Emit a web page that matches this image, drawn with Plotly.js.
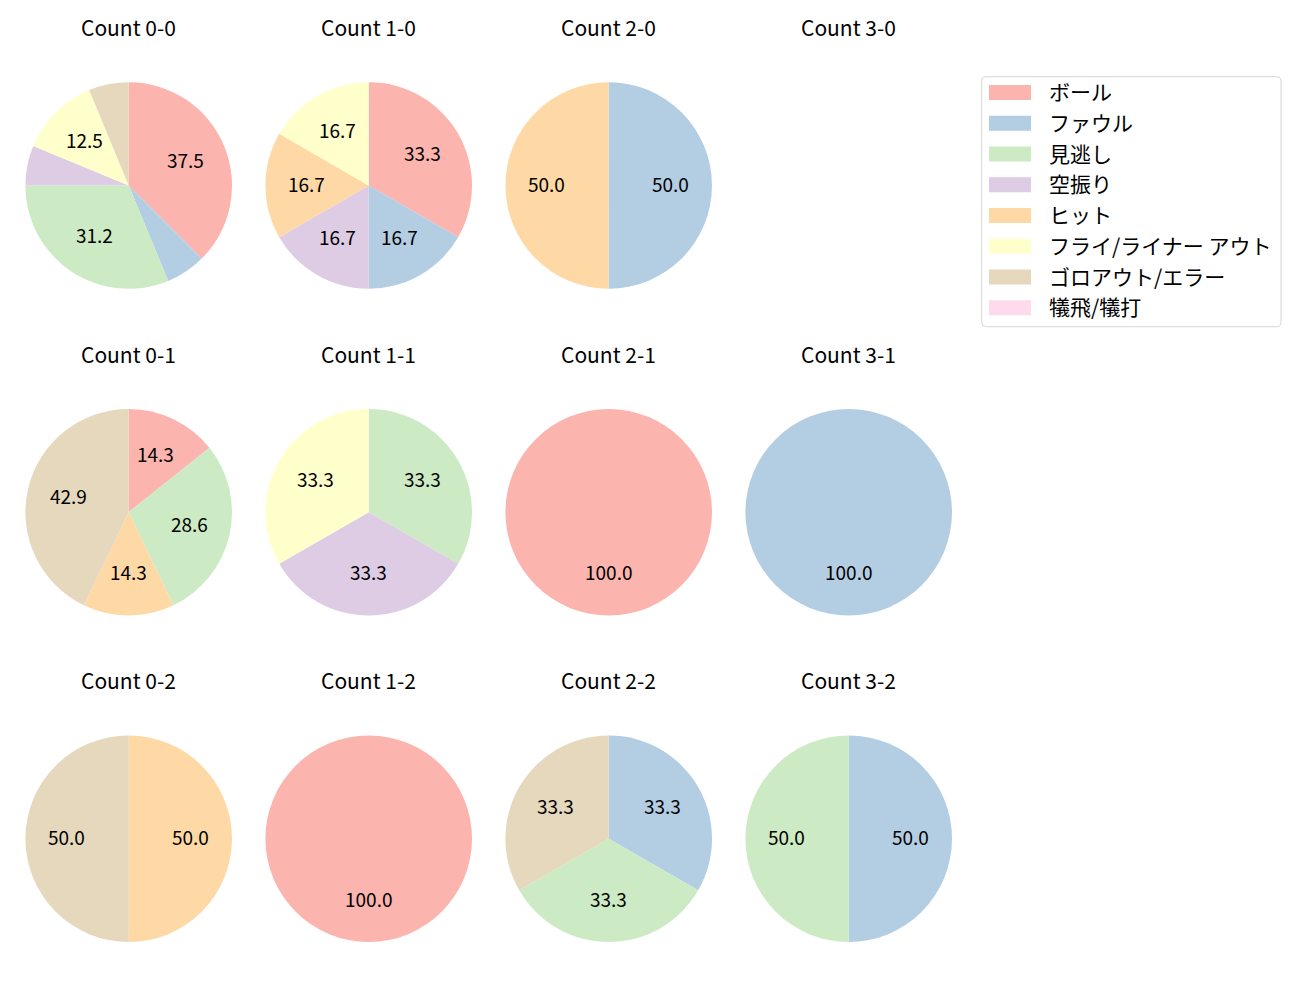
<!DOCTYPE html>
<html>
<head>
<meta charset="utf-8">
<script src="https://cdn.plot.ly/plotly-3.0.1.min.js"></script>
<style>html,body{margin:0;padding:0;background:#fff;}#chart{width:1300px;height:1000px;}</style>
</head>
<body>
<div id="chart"></div>
<script>
// ---- data ----
const categories = ['ボール', 'ファウル', '見逃し', '空振り', 'ヒット', 'フライ/ライナー アウト', 'ゴロアウト/エラー', '犠飛/犠打'];
const colors = ['#fbb4ae', '#b3cde3', '#ccebc5', '#decbe4', '#fed9a6', '#ffffcc', '#e5d8bd', '#fddaec'];
const countLabels = ['0-0', '1-0', '2-0', '3-0', '0-1', '1-1', '2-1', '3-1', '0-2', '1-2', '2-2', '3-2'];
const count_0_0 = [6, 1, 5, 1, 0, 2, 1, 0];
const count_1_0 = [2, 1, 0, 1, 1, 1, 0, 0];
const count_2_0 = [0, 1, 0, 0, 1, 0, 0, 0];
const count_3_0 = [0, 0, 0, 0, 0, 0, 0, 0];
const count_0_1 = [1, 0, 2, 0, 1, 0, 3, 0];
const count_1_1 = [0, 0, 1, 1, 0, 1, 0, 0];
const count_2_1 = [1, 0, 0, 0, 0, 0, 0, 0];
const count_3_1 = [0, 1, 0, 0, 0, 0, 0, 0];
const count_0_2 = [0, 0, 0, 0, 1, 0, 1, 0];
const count_1_2 = [1, 0, 0, 0, 0, 0, 0, 0];
const count_2_2 = [0, 1, 1, 0, 0, 0, 1, 0];
const count_3_2 = [0, 1, 1, 0, 0, 0, 0, 0];
const allCounts = [count_0_0, count_1_0, count_2_0, count_3_0, count_0_1, count_1_1, count_2_1, count_3_1, count_0_2, count_1_2, count_2_2, count_3_2];

// ---- layout geometry (pixels) ----
const W = 1300, H = 1000;
const colX = [128.7, 368.7, 608.7, 848.7];
const rowY = [185.5, 512.2, 838.7];
const R = 103.3;
const titleOffset = 156.5;
const FONT = '"Noto Sans CJK JP", "Noto Sans", sans-serif';

function fmt1(p) {
  const x = p * 10;
  const f = Math.floor(x);
  const d = x - f;
  let r;
  if (Math.abs(d - 0.5) < 1e-9) r = (f % 2 === 0) ? f : f + 1;
  else r = Math.round(x);
  return (r / 10).toFixed(1);
}

const traces = [];
const annotations = [];
const shapes = [];

allCounts.forEach((vals, i) => {
  const row = Math.floor(i / 4), col = i % 4;
  const cx = colX[col], cy = rowY[row];
  annotations.push({
    text: 'Count ' + countLabels[i], x: cx / W, y: 1 - (cy - titleOffset) / H,
    xref: 'paper', yref: 'paper', showarrow: false, xanchor: 'center', yanchor: 'middle', yshift: 2,
    font: {family: FONT, size: 21, color: '#000'}
  });
  const total = vals.reduce((a, b) => a + b, 0);
  if (total === 0) return;
  traces.push({
    type: 'pie', labels: categories, values: vals, sort: false, direction: 'clockwise', rotation: 0,
    marker: {colors: colors, line: {width: 0}}, textinfo: 'none', hoverinfo: 'skip', showlegend: false,
    domain: {x: [(cx - R) / W, (cx + R) / W], y: [1 - (cy + R) / H, 1 - (cy - R) / H]}
  });
  let cum = 0;
  vals.forEach((v) => {
    if (v <= 0) return;
    const frac = v / total;
    const pct = 100 * frac;
    const mid = (90 - 360 * (cum + frac / 2)) * Math.PI / 180;
    cum += frac;
    if (pct < 10) return;
    const px = cx + 0.6 * R * Math.cos(mid);
    const py = cy - 0.6 * R * Math.sin(mid);
    annotations.push({
      text: fmt1(pct), x: px / W, y: 1 - py / H, xref: 'paper', yref: 'paper', showarrow: false,
      xanchor: 'center', yanchor: 'middle', yshift: 2.5, font: {family: FONT, size: 19, color: '#000'}
    });
  });
});

// ---- legend (drawn manually to match the reference style) ----
const lx0 = 981.7, lx1 = 1281, ly0 = 76.7, ly1 = 326.7, rad = 4;
const toX = (px) => px / W, toY = (py) => 1 - py / H;
shapes.push({
  type: 'path', xref: 'paper', yref: 'paper',
  path: `M ${toX(lx0 + rad)} ${toY(ly0)} L ${toX(lx1 - rad)} ${toY(ly0)} Q ${toX(lx1)} ${toY(ly0)} ${toX(lx1)} ${toY(ly0 + rad)} ` +
        `L ${toX(lx1)} ${toY(ly1 - rad)} Q ${toX(lx1)} ${toY(ly1)} ${toX(lx1 - rad)} ${toY(ly1)} ` +
        `L ${toX(lx0 + rad)} ${toY(ly1)} Q ${toX(lx0)} ${toY(ly1)} ${toX(lx0)} ${toY(ly1 - rad)} ` +
        `L ${toX(lx0)} ${toY(ly0 + rad)} Q ${toX(lx0)} ${toY(ly0)} ${toX(lx0 + rad)} ${toY(ly0)} Z`,
  line: {color: '#d6d6d6', width: 1}, fillcolor: 'rgba(255,255,255,0.8)'
});
const legTop = 92.5, legStep = 30.76;
categories.forEach((c, k) => {
  const yc = legTop + k * legStep;
  shapes.push({
    type: 'rect', xref: 'paper', yref: 'paper',
    x0: toX(989), x1: toX(1031), y0: toY(yc - 7.5), y1: toY(yc + 7.5),
    fillcolor: colors[k], line: {width: 0}
  });
  annotations.push({
    text: c, x: toX(1047), y: toY(yc), xref: 'paper', yref: 'paper', showarrow: false,
    xanchor: 'left', yanchor: 'middle', yshift: 1.5, font: {family: FONT, size: 21, color: '#000'}
  });
});

const layout = {
  width: W, height: H, margin: {l: 0, r: 0, t: 0, b: 0},
  paper_bgcolor: '#fff', plot_bgcolor: '#fff', showlegend: false,
  annotations: annotations, shapes: shapes, font: {family: FONT}
};
Plotly.newPlot('chart', traces, layout, {displayModeBar: false, staticPlot: true});
</script>
</body>
</html>
